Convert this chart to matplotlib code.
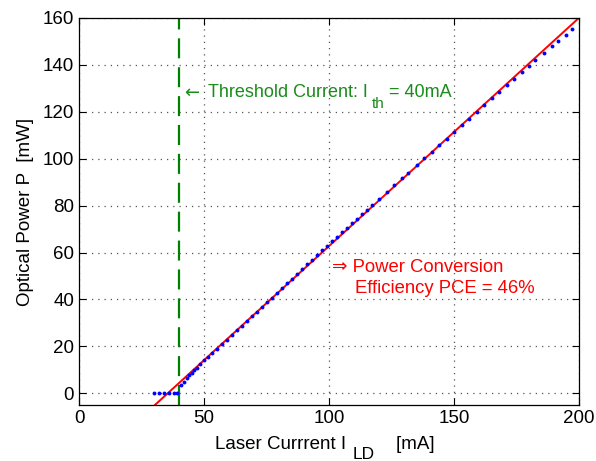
import matplotlib
matplotlib.use("Agg")
import matplotlib.pyplot as plt
import numpy as np

plt.rcParams['font.family'] = ['Liberation Sans', 'DejaVu Sans']

# measured laser current (mA) and optical power (mW)
current_mA = [30, 32, 34, 36, 38, 39.2, 40.7, 42, 43, 44, 45, 46, 47, 48.4,
              50, 51.5, 53, 55, 57, 59, 61, 63, 65, 67, 69, 71, 73, 75, 77,
              79, 81, 83, 85, 87, 89, 91, 93, 95, 97, 99, 101, 103, 105, 107,
              109, 111, 113, 115, 117, 120, 123, 126, 129, 131.5, 135, 138,
              141, 144, 147, 150, 153, 156, 159, 162, 165, 168, 171, 174, 177,
              180, 182.5, 186, 189, 191.7, 194.6, 197]
power_mW = [0, 0, 0, 0, 0, 0.3, 3.5, 4.9, 6.4, 7.7, 8.8, 9.8, 10.8, 12.3,
            14.1, 15.6, 17.0, 19.0, 20.9, 22.9, 24.8, 26.8, 28.8, 30.8, 32.8,
            34.8, 36.8, 38.8, 40.8, 42.9, 44.9, 46.9, 48.9, 50.9, 53.0, 55.0,
            56.9, 58.9, 60.9, 62.8, 64.8, 66.7, 68.7, 70.6, 72.5, 74.4, 76.3,
            78.2, 80.2, 83.0, 85.9, 88.8, 91.6, 94.0, 97.3, 100.1, 103.0,
            105.8, 108.6, 111.4, 114.2, 117.0, 120.1, 122.9, 125.7, 128.5,
            131.3, 134.1, 136.9, 139.6, 142.0, 145.2, 147.9, 150.3, 152.9,
            155.2]

# linear fit of the lasing region
fit_slope = 0.973
fit_zero = 35.5
fit_x = np.array([30, 200])
fit_y = fit_slope * (fit_x - fit_zero)

I_th = 40

FS = 13.5
FS_TXT = 13


def sub_text(ax, x, y, head, sub, tail, coords, size, sub_size, gap, **kw):
    # matlab-like subscript: text piece, lowered subscript, then the rest
    t1 = ax.annotate(head, xy=(x, y), xycoords=coords, va='baseline',
                     ha='left', fontsize=size, **kw)
    t2 = ax.annotate(sub, xy=(1, y), xycoords=(t1, coords),
                     xytext=(gap, -7.3), textcoords='offset points',
                     va='baseline', ha='left', fontsize=sub_size, **kw)
    ax.annotate(tail, xy=(1, y), xycoords=(t2, coords), va='baseline',
                ha='left', fontsize=size, **kw)


fig = plt.figure(figsize=(5.96, 4.61), dpi=100)
ax = fig.add_axes([0.1326, 0.1215, 0.8389, 0.8395])

ax.plot(current_mA, power_mW, 'o', color='blue', ms=2.8, mew=0, zorder=3)
ax.plot(fit_x, fit_y, '-', color='red', lw=1.4, zorder=2)
ax.axvline(I_th, color='#008000', lw=1.6, ls=(0, (9, 4)), zorder=2)

ax.set_xlim(0, 200)
ax.set_ylim(-5, 160)
ax.set_xticks([0, 50, 100, 150, 200])
ax.set_yticks(range(0, 161, 20))
ax.grid(True, ls=(0, (1, 4)), color='#555555', lw=0.9)
ax.tick_params(direction='in', top=True, right=True, labelsize=FS,
               length=5, width=0.8)
for s in ax.spines.values():
    s.set_linewidth(0.9)

ax.set_ylabel('Optical Power P  [mW]', fontsize=FS, labelpad=6)

# x label, baseline below the axes
sub_text(ax, 0.272, -0.114, 'Laser Currrent I', 'LD', '    [mA]',
         'axes fraction', FS, 12.5, 4.5, color='black', annotation_clip=False)

green = '#1a8c1a'
ax.text(42.0, 126.1, '\u2190', color=green, fontsize=FS_TXT,
        family='DejaVu Sans', va='baseline', ha='left')
sub_text(ax, 51.6, 126.1, 'Threshold Current: I', 'th', ' = 40mA',
         'data', FS_TXT, 11, 2.5, color=green)
ax.text(101.1, 51.8, '\u21d2 Power Conversion', color='red', fontsize=13.3,
        va='baseline', ha='left')
ax.text(110.4, 42.6, 'Efficiency PCE = 46%', color='red', fontsize=13.3,
        va='baseline', ha='left')

fig.savefig('out.png', dpi=100)
